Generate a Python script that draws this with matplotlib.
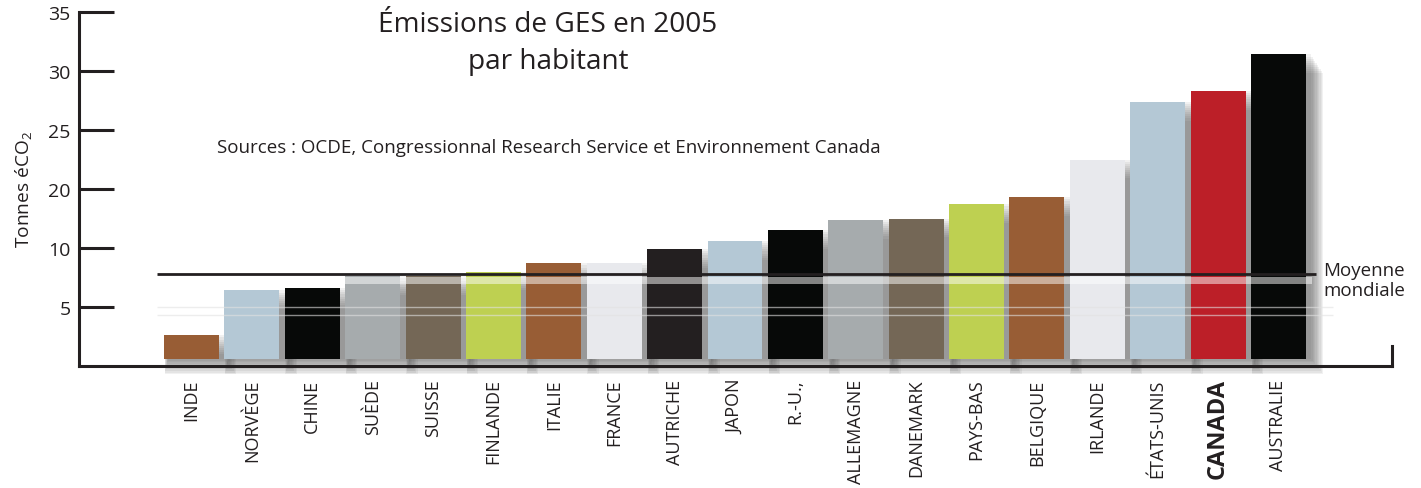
import numpy as np
import matplotlib
matplotlib.use("Agg")
import matplotlib.pyplot as plt

plt.rcParams['font.family'] = ['Open Sans', 'DejaVu Sans']
plt.rcParams['mathtext.default'] = 'regular'

# Données (tonnes éCO2 par habitant, 2005)
pays = ["INDE", "NORVÈGE", "CHINE", "SUÈDE", "SUISSE", "FINLANDE", "ITALIE",
        "FRANCE", "AUTRICHE", "JAPON", "R.-U.,", "ALLEMAGNE", "DANEMARK",
        "PAYS-BAS", "BELGIQUE", "IRLANDE", "ÉTATS-UNIS", "CANADA", "AUSTRALIE"]
emissions = [2.6, 6.4, 6.6, 7.6, 7.6, 8.0, 8.7, 8.7, 9.9, 10.6, 11.5,
             12.4, 12.5, 13.7, 14.3, 17.5, 22.4, 23.3, 26.4]
couleurs = ["#985d35", "#b4c8d5", "#070908", "#a6abad", "#746756", "#bed051",
            "#985d35", "#e8e9ed", "#231f20", "#b4c8d5", "#070908", "#a6abad",
            "#746756", "#bed051", "#985d35", "#e8e9ed", "#b4c8d5", "#bc1f28",
            "#070908"]
moyenne_mondiale = 7.8
yticks = [5, 10, 15, 20, 25, 30]
ytick_labels = ["5", "10", "20", "25", "30", "35"]

W, H = 1421, 489
fig = plt.figure(figsize=(W / 100, H / 100), dpi=100)
ax = fig.add_axes([79 / W, (H - 367) / H, (1392 - 79) / W, (367 - 13) / H])

x = np.arange(len(pays))
base = 0.6
largeur = 0.91

# ombres portées (flou approximé par superposition)
for s in np.linspace(0, 1, 10):
    ax.bar(x + 0.08 + 0.07 * s, np.array(emissions) - base - 0.3 * s,
           width=largeur + 0.02 + 0.26 * s, bottom=base - 1.3 * s,
           color="#4a4a4a", alpha=0.075, linewidth=0, zorder=1, clip_on=False)

ax.bar(x, np.array(emissions) - base, width=largeur, bottom=base,
       color=couleurs, linewidth=0, zorder=2)

# lignes fantômes et bande claire
ax.hlines([5.0, 4.3], -0.57, 18.9, color="#e2e2e2", linewidth=1, zorder=3, alpha=0.6)
ax.fill_between([-0.57, 18.55], 6.95, 7.55, color="white", alpha=0.5, zorder=3, linewidth=0)

# moyenne mondiale
ax.hlines(moyenne_mondiale, -0.57, 18.62, color="#231f20", linewidth=2, zorder=4)
ax.text(18.74, 7.3, "Moyenne\nmondiale", ha="left", va="center",
        fontsize=13.5, color="#231f20", linespacing=1.1)

ax.set_xlim(-1.863, 19.88)
ax.set_ylim(0, 30)
ax.set_yticks(yticks, ytick_labels, fontsize=14, color="#231f20")
ax.tick_params(axis="y", direction="in", length=25, width=2.2, pad=6, color="#231f20")
ax.set_xticks(x, pays, rotation=90, va="top", fontsize=13, color="#231f20")
ax.tick_params(axis="x", length=0, pad=9)
for lbl in ax.get_xticklabels():
    if lbl.get_text() == "CANADA":
        lbl.set_fontweight("bold")
        lbl.set_fontsize(17)

ax.spines["top"].set_visible(False)
ax.spines["left"].set_linewidth(2.2)
ax.spines["bottom"].set_linewidth(2.2)
ax.spines["right"].set_linewidth(2.2)
ax.spines["right"].set_bounds(0, 1.7)
for sp in ax.spines.values():
    sp.set_color("#231f20")
ax.patch.set_alpha(0)

fig.text(548 / W, 1 - 11 / H, "Émissions de GES en 2005\npar habitant", ha="center",
         va="top", fontsize=20.2, color="#231f20", linespacing=1.45)
fig.text(217 / W, 1 - 148 / H,
         "Sources : OCDE, Congressionnal Research Service et Environnement Canada",
         ha="left", va="center", fontsize=13.5, color="#231f20")
fig.text(23 / W, 1 - 189 / H, "Tonnes éCO$_2$", rotation=90, ha="center", va="center",
         fontsize=13.8, color="#231f20")

fig.savefig("out.png", dpi=100)
